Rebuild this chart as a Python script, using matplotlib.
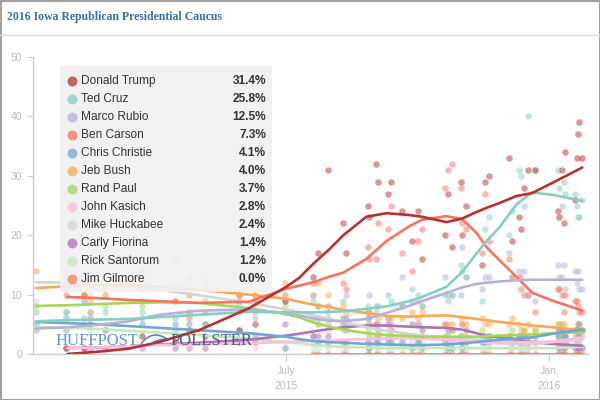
import numpy as np
import matplotlib
matplotlib.use('Agg')
import matplotlib.pyplot as plt
from matplotlib.patches import Rectangle, PathPatch
from matplotlib.path import Path

N = np.nan

# candidates, final estimates, colours
names = ['Donald Trump', 'Ted Cruz', 'Marco Rubio', 'Ben Carson', 'Chris Christie', 'Jeb Bush',
         'Rand Paul', 'John Kasich', 'Mike Huckabee', 'Carly Fiorina', 'Rick Santorum', 'Jim Gilmore']
final_pct = ['31.4%', '25.8%', '12.5%', '7.3%', '4.1%', '4.0%', '3.7%', '2.8%', '2.4%', '1.4%', '1.2%', '0.0%']
colors = ['#b8312f', '#84cfc0', '#b8b0d8', '#f8735f', '#70a6d2', '#fda750',
          '#a5d65a', '#f9c0dc', '#d4d4d4', '#b36fb8', '#c6e8bd', '#e8825e']

# individual polls
poll_dates = ['2015-01-07', '2015-01-28', '2015-02-10', '2015-02-14', '2015-02-24', '2015-03-22',
              '2015-04-14', '2015-04-24', '2015-05-05', '2015-05-29', '2015-06-09', '2015-06-30',
              '2015-07-20', '2015-07-23', '2015-07-30', '2015-08-10', '2015-08-12', '2015-08-27',
              '2015-08-28', '2015-09-02', '2015-09-03', '2015-09-10', '2015-09-12', '2015-09-20',
              '2015-09-27', '2015-10-01', '2015-10-04', '2015-10-20', '2015-10-22', '2015-10-25',
              '2015-10-31', '2015-11-01', '2015-11-04', '2015-11-15', '2015-11-17', '2015-11-20',
              '2015-12-04', '2015-12-06', '2015-12-11', '2015-12-12', '2015-12-14', '2015-12-17',
              '2015-12-22', '2016-01-07', '2016-01-08', '2016-01-10', '2016-01-11', '2016-01-12',
              '2016-01-19', '2016-01-20', '2016-01-21', '2016-01-22', '2016-01-24']
trump_polls = [N, 1, 1, N, N, 3, 2, 4, 3, 4, 5, 9, 13, 17, 31, 22, 17, 25, 23, 32, 29, 27, 29, 24, 19, 24, 16,
               20, 27, 18, 29, 20, 25, 15, 29, 30, 33, 19, 23, 21, 28, 31, 31, 24, 23, 31, 22, 34, 26, 33, 37, 39, 33]
cruz_polls = [7, 7, 6, 5, 7, 7, 6, 7, 12, 8, 7, 9, 9, 8, 7, 9, 5, 8, 6, 7, 8, 10, 9, 8, 11, 10, 8,
              10, 10, 10, 15, 14, 13, 9, 21, 23, 20, 24, 31, 30, 25, 40, 31, 31, 28, 25, 29, 27, 27, 25, 23, 23, 26]
rubio_polls = [4, 4, 5, 7, 4, 6, 4, 13, 5, 7, 6, 7, 10, 6, 6, 6, 10, 6, 10, 8, 5, 6, 5, 13, 9, 9, 8,
               13, 9, 10, 10, 18, 13, 11, 13, 13, 17, 13, 14, 13, 14, 10, 9, 15, 13, 13, 15, 11, 14, 12, 14, 11, 11]
carson_polls = [N, 10, 10, 6, 11, 14, 9, 6, 7, 10, 9, 10, 12, 8, 8, 12, 11, 18, 16, 16, 22, 21, 25, 17, 14, 19, 21,
                28, 31, 32, 28, 22, 21, 17, 27, 19, 16, 13, 13, 11, 10, 10, 7, 11, 11, 10, 7, 10, 9, 9, 8, 7, 7]
christie_polls = [5, 6, 9, 5, 4, 5, 5, 5, 5, 4, 3, 1, 3, 2, 2, 2, 2, 2, 1, 2, 2, 2, 2, 2, 1, 2, 1,
                  2, 1, 1, 2, 1, 2, 2, 2, 3, 3, 2, 3, 2, 3, 2, 3, 3, 4, 4, 3, 3, 4, 4, 3, 5, 4]
bush_polls = [14, 13, 10, 9, 10, 9, 16, 10, 5, 10, 10, 12, 10, 12, 10, 8, 7, 6, 7, 5, 6, 6, 6, 6, 7, 6, 7,
              5, 5, 5, 6, 5, 5, 6, 5, 5, 5, 6, 5, 4, 4, 5, 4, 4, 5, 4, 5, 4, 4, 4, 5, 3, 4]
paul_polls = [8, 7, 10, 7, 8, 8, 9, 7, 9, 9, 10, 8, 6, 5, 5, 6, 4, 4, 3, 3, 3, 3, 3, 3, 3, 2, 3,
              3, 3, 4, 3, 2, 3, 4, 3, 3, 3, 4, 3, 3, 4, 3, 4, 5, 3, 5, 4, 3, 4, 4, 5, 4, 4]
kasich_polls = [N, 1, 1, 1, 0, 1, 2, 1, 2, 2, 1, 2, 2, 2, 2, 2, 1, 2, 2, 2, 3, 2, 2, 2, 2, 3, 2,
                2, 2, 2, 2, 3, 2, 2, 2, 2, 2, 1, 2, 2, 2, 1, 2, 2, 3, 2, 2, 2, 3, 3, 3, 3, 3]
huckabee_polls = [9, 14, 17, 10, 10, 11, 12, 10, 13, 9, 9, 7, 6, 5, 4, 4, 4, 5, 3, 3, 4, 4, 3, 3, 3, 2, 3,
                  2, 3, 2, 3, 2, 2, 3, 2, 3, 2, 2, 2, 2, 2, 2, 2, 2, 3, 2, 3, 2, 3, 2, 2, 3, 3]
fiorina_polls = [N, 1, 1, 1, 1, 1, 1, 1, 1, 2, 2, 5, 3, 3, 3, 5, 6, 7, 5, 5, 4, 5, 4, 8, 5, 5, 4,
                 5, 4, 4, 3, 5, 4, 3, 3, 2, 3, 2, 2, 3, 2, 2, 2, 2, 1, 2, 1, 2, 1, 2, 1, 1, 1]
santorum_polls = [4, 4, 5, 4, 5, 3, 2, 2, 2, 2, 2, 1, 1, 1, 1, 1, 1, 1, 1, 1, 1, 1, 1, 1, 1, 1, 1,
                  1, 1, 1, 1, 1, 1, 1, 1, 1, 1, 1, 1, 1, 1, 1, 1, 1, 1, 1, 1, 1, 1, 1, 1, 2, 1]
gilmore_polls = [N, N, N, N, N, N, N, N, N, N, N, N, 0, 0, 0, 0, 0, 0, 0, 0, 0, 0, 0, 0, 0, 0, 0,
                 0, 0, 0, 0, 0, 0, 0, 0, 0, 0, 0, 0, 0, 0, 0, 0, 0, 0, 0, 0, 0, 0, 0, 0, 0, 0]

# trend estimates
trend_dates = ['2015-01-07', '2015-01-29', '2015-02-20', '2015-03-13', '2015-04-03', '2015-05-01',
               '2015-06-05', '2015-07-01', '2015-07-10', '2015-07-20', '2015-07-31', '2015-08-10',
               '2015-08-26', '2015-09-09', '2015-09-25', '2015-10-04', '2015-10-21', '2015-11-01',
               '2015-11-11', '2015-11-18', '2015-11-27', '2015-12-09', '2015-12-20', '2016-01-03',
               '2016-01-24']
trump_trend = [N, 0.0, 0.4, 0.9, 2.0, 4.0, 7.7, 11.3, 12.8, 15.2, 17.6, 20.0, 23.1, 23.7, 23.4, 23.1,
               22.2, 22.8, 23.9, 24.6, 25.4, 26.6, 27.1, 28.8, 31.4]
cruz_trend = [5.5, 5.7, 5.8, 5.9, 6.2, 6.6, 7.1, 7.0, 7.0, 7.0, 7.1, 7.2, 7.6, 8.0, 8.9, 9.6,
              11.3, 13.8, 16.9, 19.0, 21.3, 25.2, 27.2, 26.8, 25.8]
rubio_trend = [4.3, 4.5, 4.9, 5.5, 6.6, 7.3, 7.5, 6.9, 6.5, 6.0, 5.6, 5.5, 5.9, 6.9, 8.1, 8.9,
               10.3, 11.2, 11.8, 12.0, 12.2, 12.4, 12.5, 12.5, 12.5]
carson_trend = [N, 9.6, 9.4, 9.1, 8.9, 8.6, 8.8, 11.0, 11.5, 12.1, 13.0, 13.7, 16.0, 19.0, 21.5, 22.6,
                23.2, 22.7, 20.4, 18.0, 15.8, 13.0, 10.3, 9.0, 7.3]
christie_trend = [5.4, 5.2, 5.0, 4.7, 4.4, 4.0, 3.5, 2.9, 2.5, 2.2, 2.0, 1.9, 1.7, 1.6, 1.5, 1.5,
                  1.6, 1.8, 2.0, 2.2, 2.4, 2.6, 2.8, 3.4, 4.1]
bush_trend = [11.1, 11.4, 11.6, 11.6, 11.3, 10.8, 10.0, 9.3, 8.8, 8.3, 7.9, 7.4, 6.9, 6.4, 6.3, 6.4,
              6.5, 6.2, 5.9, 5.7, 5.4, 5.1, 4.8, 4.5, 4.0]
paul_trend = [8.1, 8.2, 8.4, 8.6, 8.7, 8.6, 7.7, 6.7, 6.2, 5.3, 4.6, 4.1, 3.5, 3.2, 3.0, 2.9,
              2.9, 2.9, 2.9, 3.0, 3.1, 3.2, 3.3, 3.5, 3.7]
kasich_trend = [N, 1.0, 1.1, 1.3, 1.5, 1.6, 1.8, 2.0, 2.1, 2.2, 2.3, 2.4, 2.5, 2.6, 2.6, 2.6,
                2.4, 2.2, 2.0, 1.9, 1.8, 1.7, 1.7, 2.0, 2.8]
huckabee_trend = [12.1, 12.0, 11.7, 11.3, 10.8, 9.9, 8.6, 7.5, 7.1, 6.5, 5.9, 5.4, 4.5, 3.9, 3.4, 3.1,
                  2.8, 2.6, 2.4, 2.3, 2.2, 2.0, 2.0, 2.1, 2.4]
fiorina_trend = [N, 1.0, 1.1, 1.3, 1.6, 1.9, 2.4, 3.1, 3.4, 3.8, 4.2, 4.5, 4.8, 4.8, 4.6, 4.5,
                 4.4, 4.1, 3.5, 3.0, 2.8, 2.4, 2.0, 1.7, 1.4]
santorum_trend = [4.5, 4.4, 4.2, 3.9, 3.6, 3.2, 2.6, 2.0, 1.8, 1.5, 1.3, 1.2, 1.1, 1.0, 1.0, 1.0,
                  1.0, 1.0, 1.0, 1.0, 1.0, 1.0, 1.0, 1.0, 1.2]
gilmore_trend = [N, N, N, N, N, N, N, N, N, 0.0, 0.0, 0.0, 0.0, 0.0, 0.0, 0.0,
                 0.0, 0.0, 0.0, 0.0, 0.0, 0.0, 0.0, 0.0, 0.0]

polls = [trump_polls, cruz_polls, rubio_polls, carson_polls, christie_polls, bush_polls,
         paul_polls, kasich_polls, huckabee_polls, fiorina_polls, santorum_polls, gilmore_polls]
trends = [trump_trend, cruz_trend, rubio_trend, carson_trend, christie_trend, bush_trend,
          paul_trend, kasich_trend, huckabee_trend, fiorina_trend, santorum_trend, gilmore_trend]

pd_arr = np.array(poll_dates, dtype='datetime64[D]')
td_arr = np.array(trend_dates, dtype='datetime64[D]')

fig = plt.figure(figsize=(6, 4), dpi=100)
ax = fig.add_axes([33 / 600, 46 / 400, 555 / 600, 297 / 400])

# dots then lines, Trump on top
for i in reversed(range(len(names))):
    ax.scatter(pd_arr, polls[i], s=22, color=colors[i], alpha=0.5, linewidths=0, zorder=2)
for i in reversed(range(len(names))):
    ax.plot(td_arr, trends[i], color=colors[i], lw=1.9, zorder=3, solid_capstyle='round')

ax.set_ylim(0, 50)
ax.set_xlim(np.datetime64('2015-01-05'), np.datetime64('2016-01-28'))
ax.set_yticks([0, 10, 20, 30, 40, 50])
ax.set_xticks([np.datetime64('2015-07-01'), np.datetime64('2016-01-01')])
ax.set_xticklabels(['July\n2015', 'Jan.\n2016'])
for s in ['top', 'right']:
    ax.spines[s].set_visible(False)
for s in ['left', 'bottom']:
    ax.spines[s].set_color('#cccccc')
    ax.spines[s].set_linewidth(1)
ax.tick_params(axis='both', colors='#cccccc', labelcolor='#bbbbbb', labelsize=7.5, length=4)
ax.tick_params(axis='y', pad=4)
ax.tick_params(axis='x', length=5, pad=4)
for lab in ax.get_xticklabels() + ax.get_yticklabels():
    lab.set_fontfamily('Liberation Sans')
    lab.set_linespacing(1.6)

# overlay in pixel coords
ov = fig.add_axes([0, 0, 1, 1])
ov.set_xlim(0, 600)
ov.set_ylim(400, 0)
ov.axis('off')
ov.set_zorder(5)

# watermark
ov.text(56, 345, 'HUFFPOST', fontfamily='Liberation Serif', fontsize=12, color='#4a8cc4',
        va='baseline', alpha=0.9)
ov.text(171, 345, 'POLLSTER', fontfamily='Liberation Serif', fontsize=12, color='#34527f',
        va='baseline', alpha=0.9)
swoosh = Path([(141, 344), (152, 329), (167, 339), (150, 344), (158, 339), (167, 339)],
              [Path.MOVETO, Path.CURVE3, Path.CURVE3, Path.MOVETO, Path.CURVE3, Path.CURVE3])
ov.add_patch(PathPatch(swoosh, fill=False, edgecolor='#4a6f9f', lw=1.1, alpha=0.9))

ov.text(7, 17, '2016 Iowa Republican Presidential Caucus', fontfamily='Liberation Serif',
        fontweight='bold', fontsize=8.5, color='#3b6ea5', va='center', ha='left')
ov.plot([0, 600], [35, 35], color='#dddddd', lw=1)
ov.add_patch(Rectangle((0.5, 0.5), 599, 399, fill=False, edgecolor='#a0a0a0', lw=1.5))

# legend box
ov.add_patch(Rectangle((60, 66), 212, 226, facecolor='#f0f0f0', edgecolor='none', alpha=0.9, zorder=1))
for i, name in enumerate(names):
    y = 80.7 + 18 * i
    ov.scatter([72], [y], s=52, color=colors[i], alpha=0.75, linewidths=0, zorder=2)
    ov.text(81, y, name, fontfamily='Liberation Sans', fontsize=8.6, color='#333333', va='center', zorder=3)
    ov.text(266, y, final_pct[i], fontfamily='Liberation Sans', fontsize=8.6, fontweight='bold',
            color='#333333', va='center', ha='right', zorder=3)

fig.savefig('out.png', dpi=100)
